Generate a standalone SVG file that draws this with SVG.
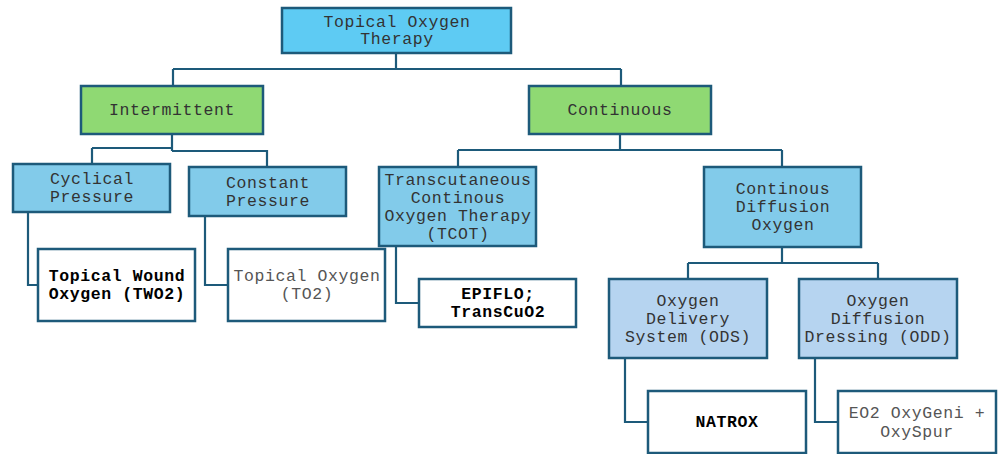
<svg xmlns="http://www.w3.org/2000/svg" width="1000" height="454" viewBox="0 0 1000 454">
<style>
  .box { stroke: #1d5a7a; stroke-width: 2.5; }
  .top { fill: #5ecbf3; }
  .grn { fill: #8fd973; }
  .l2 { fill: #82cbea; }
  .l3 { fill: #b6d4f0; }
  .leaf { fill: #ffffff; }
  text { font-family: "Liberation Mono", "Courier New", monospace; font-size: 16.5px; letter-spacing: 0.6px; text-anchor: middle; fill: #333333; }
  text.b { font-weight: bold; fill: #000000; }
  text.g { fill: #555555; }
  .conn path { fill: none; stroke: #1d5a7a; stroke-width: 2.2; }
</style>
<rect width="1000" height="454" fill="#ffffff"/>
<g class="conn">
  <path d="M396,53 V69 M173,69 H621 M173,69 V86 M621,69 V86"/>
  <path d="M172,134 V151 M92,148 H172 M92,148 V164 M172,151 H267 V167"/>
  <path d="M28,212 V285 H38"/>
  <path d="M205,216 V285 H228"/>
  <path d="M620,134 V150 M458,150 H782 M458,150 V167 M782,150 V167"/>
  <path d="M396,246 V303 H419"/>
  <path d="M782,247 V263 M688,263 H878 M688,263 V279 M878,263 V279"/>
  <path d="M625,358 V422 H648"/>
  <path d="M815,358 V422 H838"/>
</g>
<g id="n-root"><rect class="box top" x="282" y="8" width="229" height="45"/><text x="397" y="27">Topical Oxygen</text><text x="397" y="44">Therapy</text></g>
<g id="n-intermittent"><rect class="box grn" x="81" y="86" width="182" height="48"/><text x="172" y="115">Intermittent</text></g>
<g id="n-continuous"><rect class="box grn" x="529" y="86" width="182" height="48"/><text x="620" y="115">Continuous</text></g>
<g id="n-cyclical"><rect class="box l2" x="13" y="164" width="157" height="48"/><text x="92" y="184">Cyclical</text><text x="92" y="202">Pressure</text></g>
<g id="n-constant"><rect class="box l2" x="189" y="167" width="157" height="49"/><text x="268" y="188">Constant</text><text x="268" y="206">Pressure</text></g>
<g id="n-two2"><rect class="box leaf" x="38" y="249" width="157" height="72"/><text class="b" x="117" y="281">Topical Wound</text><text class="b" x="117" y="299">Oxygen (TWO2)</text></g>
<g id="n-to2"><rect class="box leaf" x="228" y="249" width="157" height="72"/><text class="g" x="307" y="281">Topical Oxygen</text><text class="g" x="307" y="299">(TO2)</text></g>
<g id="n-tcot"><rect class="box l2" x="379" y="167" width="157" height="79"/><text x="458" y="185">Transcutaneous</text><text x="458" y="203">Continous</text><text x="458" y="221">Oxygen Therapy</text><text x="458" y="239">(TCOT)</text></g>
<g id="n-epiflo"><rect class="box leaf" x="419" y="279" width="157" height="48"/><text class="b" x="498" y="299">EPIFLO;</text><text class="b" x="498" y="317">TransCuO2</text></g>
<g id="n-cdo"><rect class="box l2" x="704" y="167" width="157" height="80"/><text x="783" y="194">Continous</text><text x="783" y="212">Diffusion</text><text x="783" y="230">Oxygen</text></g>
<g id="n-ods"><rect class="box l3" x="609" y="279" width="158" height="79"/><text x="688" y="306">Oxygen</text><text x="688" y="324">Delivery</text><text x="688" y="342">System (ODS)</text></g>
<g id="n-odd"><rect class="box l3" x="799" y="279" width="158" height="79"/><text x="878" y="306">Oxygen</text><text x="878" y="324">Diffusion</text><text x="878" y="342">Dressing (ODD)</text></g>
<g id="n-natrox"><rect class="box leaf" x="648" y="391" width="158" height="62"/><text class="b" x="727" y="427">NATROX</text></g>
<g id="n-eo2"><rect class="box leaf" x="838" y="391" width="158" height="62"/><text class="g" x="917" y="418">EO2 OxyGeni +</text><text class="g" x="917" y="437">OxySpur</text></g>
</svg>
